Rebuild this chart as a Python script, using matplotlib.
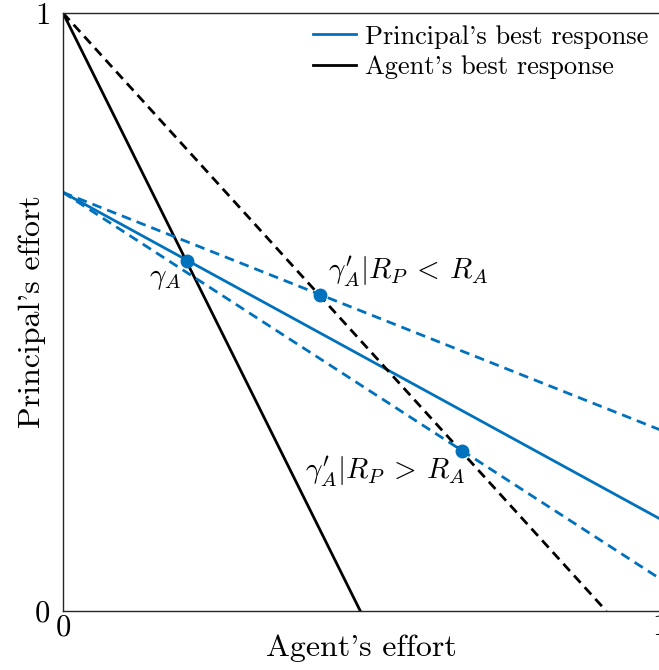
import numpy as np
import matplotlib
matplotlib.use('Agg')
import matplotlib.pyplot as plt

plt.rcParams['font.family'] = 'serif'
plt.rcParams['font.serif'] = ['cmr10']
plt.rcParams['mathtext.fontset'] = 'cm'
plt.rcParams['axes.unicode_minus'] = False

blue = '#0072BD'

# best response lines: (y at x=0, y at x=1) or x-intercepts
agent_x_intercept = 0.498        # agent solid, from (0,1)
agent_alt_x_intercept = 0.91     # agent dashed, from (0,1)
principal_y0 = 0.70
principal_y1 = 0.154             # principal solid at x=1
principal_hi_y1 = 0.303          # dashed, R_P < R_A
principal_lo_y1 = 0.054          # dashed, R_P > R_A

eq_x = [0.208, 0.431, 0.668]
eq_y = [0.586, 0.528, 0.268]
eq_labels = [r'$\gamma_A$', r"$\gamma_A'|R_P\:<\:R_A$", r"$\gamma_A'|R_P\:>\:R_A$"]

fig = plt.figure(figsize=(6.59, 6.70), dpi=100)
ax = fig.add_axes([63/659, 59/670, 597/659, 598/670])

dash = (0, (3.5, 2.2))
ax.plot([0, 1], [principal_y0, principal_y1], color=blue, lw=2, label="Principal's best response")
ax.plot([0, agent_x_intercept], [1, 0], color='black', lw=2, label="Agent's best response")
ax.plot([0, agent_alt_x_intercept], [1, 0], color='black', lw=2, ls=dash)
ax.plot([0, 1], [principal_y0, principal_hi_y1], color=blue, lw=2, ls=dash)
ax.plot([0, 1], [principal_y0, principal_lo_y1], color=blue, lw=2, ls=dash)
ax.plot(eq_x, eq_y, 'o', color=blue, ms=9, zorder=5)

ax.text(eq_x[0] - 0.01, eq_y[0] - 0.03, eq_labels[0], fontsize=21, ha='right', va='center')
ax.text(eq_x[1] + 0.013, eq_y[1] + 0.04, eq_labels[1], fontsize=21, ha='left', va='center')
ax.text(eq_x[2] + 0.007, eq_y[2] - 0.035, eq_labels[2], fontsize=21, ha='right', va='center')

ax.set_xlim(0, 1)
ax.set_ylim(0, 1)
ax.set_xticks([0, 1])
ax.set_yticks([0, 1])
ax.set_xticklabels(['0', '1'])
ax.set_yticklabels(['0', '1'])
ax.tick_params(axis='x', length=0, labelsize=22, pad=2)
ax.tick_params(axis='y', length=0, labelsize=22, pad=9)
for s in ax.spines.values():
    s.set_color('#262626')
    s.set_linewidth(1)

ax.set_xlabel("Agent's effort", fontsize=23, labelpad=-5)
ax.set_ylabel("Principal's effort", fontsize=23, labelpad=-8)

ax.legend(loc='upper right', frameon=False, fontsize=19, handlelength=1.6,
          handletextpad=0.35, borderaxespad=0.05, labelspacing=0.25)

fig.savefig('out.png', dpi=100)
